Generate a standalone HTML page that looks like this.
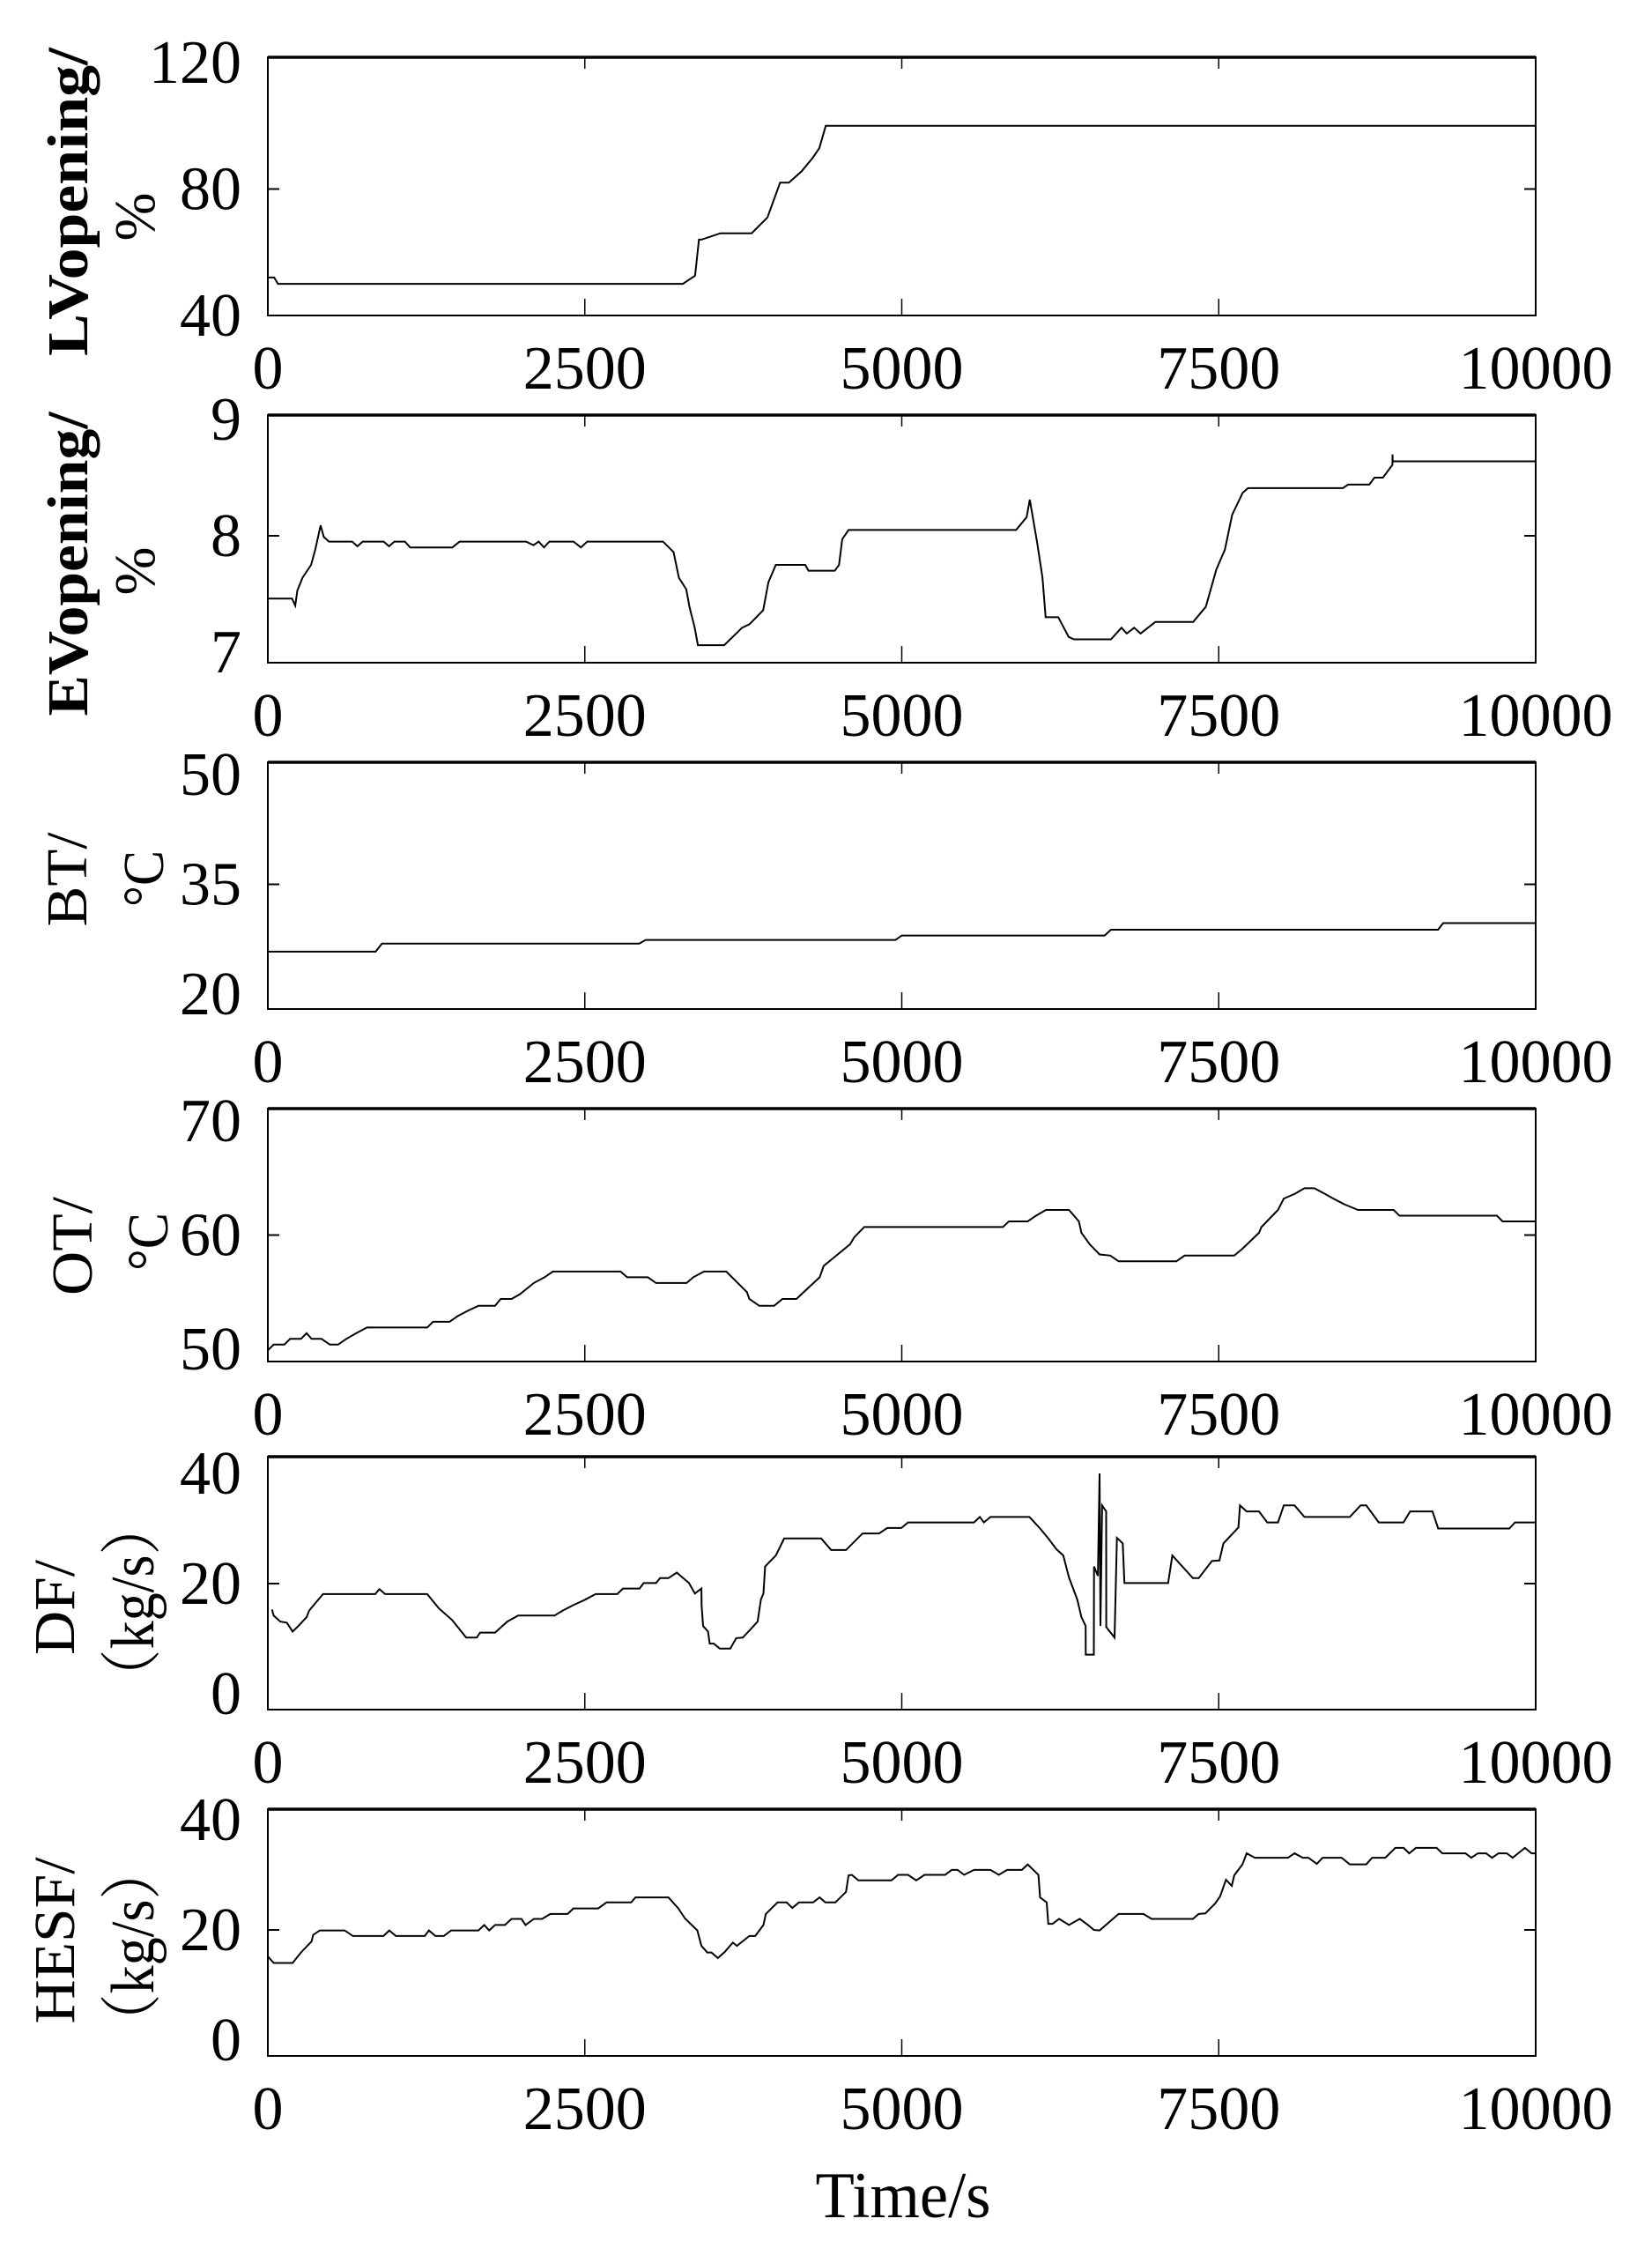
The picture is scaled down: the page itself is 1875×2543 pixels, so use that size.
<!DOCTYPE html>
<html><head><meta charset="utf-8"><style>
html,body{margin:0;padding:0;background:#fff;}
svg{display:block;}
text{font-family:"Liberation Serif","Noto Serif CJK SC",serif;fill:#000;}
</style></head><body>
<svg id="chart" width="1875" height="2543" viewBox="0 0 1875 2543" xmlns="http://www.w3.org/2000/svg"></svg>
<script>
// ---- data (time in s, values in axis units) ----
const xTicks = [0, 2500, 5000, 7500, 10000];
const xTickLabels = ["0", "2500", "5000", "7500", "10000"];

const lvT = [0,50,80,3273,3370,3400,3420,3570,3816,3940,4040,4110,4210,4300,4350,4400,10000];
const lvV = [52,52,50,50,52.6,64,64,66,66,71,82,82,85.6,90,93,100,100];

const evT = [0,191,216,233,274,341,374,416,441,482,665,707,748,914,956,998,1081,1122,1455,1513,2036,2095,2136,2178,2220,2411,2469,2519,3117,3200,3242,3300,3325,3367,3392,3600,3741,3799,3907,3948,4006,4239,4264,4472,4505,4530,4580,5902,5985,6010,6027,6068,6110,6135,6234,6317,6359,6650,6733,6775,6833,6883,7000,7299,7398,7481,7548,7606,7689,7731,8479,8521,8687,8728,8795,8870,8871,8872,10000];
const evV = [7.46,7.46,7.40,7.53,7.64,7.75,7.88,8.09,7.99,7.95,7.95,7.91,7.95,7.95,7.91,7.95,7.95,7.90,7.90,7.95,7.95,7.92,7.95,7.90,7.95,7.95,7.90,7.95,7.95,7.86,7.64,7.54,7.39,7.21,7.06,7.06,7.21,7.24,7.36,7.60,7.75,7.75,7.70,7.70,7.75,7.97,8.05,8.05,8.16,8.31,8.20,7.94,7.64,7.30,7.30,7.13,7.11,7.11,7.21,7.16,7.21,7.16,7.26,7.26,7.39,7.71,7.88,8.18,8.37,8.41,8.41,8.44,8.44,8.50,8.50,8.61,8.70,8.64,8.64];

const btT = [0,850,900,2930,2980,4950,5000,6600,6650,9230,9270,10000];
const btV = [25.8,25.8,26.9,26.9,27.4,27.4,28.0,28.0,28.8,28.8,29.7,29.7];

const otT = [0,46,130,176,261,306,345,423,489,554,619,697,782,1257,1303,1433,1498,1583,1661,1792,1837,1922,1987,2098,2182,2248,2782,2834,2997,3062,3303,3355,3440,3616,3779,3798,3876,3993,4059,4169,4352,4384,4495,4593,4625,4704,5798,5844,5993,6059,6137,6319,6397,6417,6482,6560,6645,6710,7166,7231,7622,7687,7818,7837,7967,8013,8098,8176,8254,8339,8404,8489,8599,8880,8925,9694,9739,10000];
const otV = [49.9,50.4,50.4,50.9,50.9,51.4,50.9,50.9,50.4,50.4,50.9,51.4,51.9,51.9,52.4,52.4,52.9,53.4,53.8,53.8,54.4,54.4,54.8,55.8,56.3,56.8,56.8,56.3,56.3,55.8,55.8,56.3,56.8,56.8,55.0,54.4,53.8,53.8,54.4,54.4,56.3,57.3,58.3,59.2,59.8,60.7,60.7,61.2,61.2,61.7,62.2,62.2,61.2,60.2,59.2,58.3,58.2,57.7,57.7,58.2,58.2,58.8,60.2,60.7,62.2,63.2,63.6,64.1,64.1,63.6,63.2,62.7,62.2,62.2,61.7,61.7,61.2,61.2];

const dfT = [33,46,98,150,195,241,306,326,391,436,847,880,925,1257,1349,1453,1498,1564,1648,1674,1792,1889,1974,2261,2326,2410,2495,2586,2756,2801,2932,2964,3062,3094,3160,3225,3322,3368,3420,3421,3433,3472,3485,3518,3564,3648,3694,3746,3811,3863,3889,3909,3922,4007,4072,4365,4443,4560,4691,4821,4886,4997,5049,5570,5616,5648,5700,6007,6091,6156,6222,6274,6319,6384,6417,6450,6451,6515,6516,6547,6560,6567,6580,6612,6613,6678,6697,6743,6756,7101,7134,7296,7342,7446,7505,7537,7655,7668,7720,7817,7883,7967,8013,8098,8176,8534,8619,8664,8762,8957,9010,9186,9231,9792,9837,10000];
const dfV = [15.3,14.2,13.1,12.9,11.3,12.3,13.9,15.1,16.9,18.1,18.1,19.0,18.1,18.1,15.5,13.4,12.1,10.2,10.2,11.1,11.1,13.1,14.2,14.2,15.1,16.1,17.0,18.1,18.1,19.1,19.1,20.1,20.1,21.0,21.0,22.0,20.1,18.2,19.1,16.1,12.3,11.3,9.1,9.1,8.2,8.2,10.1,10.2,11.8,13.1,17.1,18.2,23.1,25.1,28.2,28.2,26.1,26.1,29.1,29.1,30.1,30.1,31.1,31.1,32.1,31.1,32.1,32.1,30.0,28.2,26.2,25.1,21.1,17.1,13.9,12.3,7.1,7.1,23.1,21.4,40,12.3,34.2,33.1,12.1,10.2,28.3,27.3,20.1,20.1,25.1,21.0,21.0,24.1,24.2,27.3,30.2,34.2,33.1,33.1,31.1,31.1,34.2,34.2,32.1,32.1,34.2,34.2,31.1,31.1,33.1,33.1,30.0,30.0,31.1,31.1];

const hsT = [0,46,195,261,345,358,410,606,671,912,958,1010,1238,1270,1322,1388,1446,1661,1707,1746,1792,1870,1922,2000,2033,2098,2163,2228,2365,2410,2606,2671,2866,2899,3160,3238,3290,3388,3420,3466,3498,3550,3603,3668,3700,3798,3844,3909,3928,4020,4092,4137,4189,4300,4352,4397,4476,4560,4580,4606,4658,4919,4971,5049,5114,5179,5342,5394,5440,5492,5570,5700,5765,5831,5948,5993,6078,6091,6143,6156,6189,6241,6319,6404,6469,6515,6560,6710,6906,6971,7296,7342,7394,7472,7511,7557,7603,7622,7687,7720,7785,8046,8098,8163,8208,8274,8319,8469,8534,8664,8710,8814,8893,8958,9003,9055,9218,9264,9446,9492,9544,9609,9655,9707,9772,9818,9915,9967,10000];
const hsV = [15.2,14.0,14.0,15.9,17.9,19.1,19.9,19.9,18.9,18.9,19.9,18.9,18.9,19.9,18.9,18.9,19.9,19.9,20.9,19.9,20.9,20.9,22.0,22.0,20.9,22.0,22.0,22.9,22.9,23.9,23.9,25.0,25.0,25.9,25.9,23.9,22.1,19.9,17.1,15.9,15.9,14.9,16.0,17.7,17.1,18.9,18.9,20.9,22.9,25.0,25.0,24.0,25.0,25.0,25.9,25.0,25.0,26.9,29.9,30.0,29.0,29.0,30.0,30.0,29.0,30.0,30.0,30.9,30.9,30.0,30.9,30.9,30.0,30.9,30.9,31.9,30.0,25.9,25.0,21.1,21.1,22.0,20.9,22.0,20.9,20.0,19.9,22.9,22.9,22.0,22.0,22.9,23.0,24.8,26.1,29.1,28.0,29.9,31.9,33.9,33.1,33.1,33.9,33.1,33.1,32.0,33.1,33.1,31.9,31.9,33.1,33.1,34.9,34.9,33.9,34.9,34.9,33.9,33.9,33.1,33.9,33.9,33.1,33.9,33.9,33.1,34.9,33.9,33.9];

const yTicks1 = [40, 80, 120];
const yTicks2 = [7, 8, 9];
const yTicks3 = [20, 35, 50];
const yTicks4 = [50, 60, 70];
const yTicks5 = [0, 20, 40];
const yTicks6 = [0, 20, 40];

// ---- layout ----
const X0 = 304, X1 = 1743;
const NS = "http://www.w3.org/2000/svg";
const svg = document.getElementById('chart');
function mk(tag, attrs, parent) {
  const e = document.createElementNS(NS, tag);
  for (const k in attrs) e.setAttribute(k, attrs[k]);
  (parent || svg).appendChild(e);
  return e;
}
function xScale(t) { return X0 + (t / 10000) * (X1 - X0); }

const panels = [
  {key:'lv', top:65, bot:358, min:40, max:120, pMin:358, pMax:71, ticks:yTicks1, t:lvT, v:lvV,
   l1:'LVopening/', l1x:77, l1c:229, l1len:350, bold:true, l2:'%', l2x:153, l2c:246, l2len:0},
  {key:'ev', top:471, bot:752, min:7, max:9, pMin:740, pMax:476, ticks:yTicks2, t:evT, v:evV,
   l1:'EVopening/', l1x:77, l1c:640, l1len:345, bold:true, l2:'%', l2x:153, l2c:648, l2len:0},
  {key:'bt', top:865, bot:1145, min:20, max:50, pMin:1128, pMax:879, ticks:yTicks3, t:btT, v:btV,
   l1:'BT/', l1x:76, l1c:998, l1len:107, bold:false, l2:'°C', l2x:163, l2c:997, l2len:64},
  {key:'ot', top:1258, bot:1545, min:50, max:70, pMin:1531, pMax:1272, ticks:yTicks4, t:otT, v:otV,
   l1:'OT/', l1x:82, l1c:1414, l1len:112, bold:false, l2:'°C', l2x:168, l2c:1409, l2len:66},
  {key:'df', top:1653, bot:1940, min:0, max:40, pMin:1922, pMax:1672, ticks:yTicks5, t:dfT, v:dfV,
   l1:'DF/', l1x:62, l1c:1824, l1len:108, bold:false, l2:'（kg/s）', l2x:152, l2c:1818, l2len:235},
  {key:'hesf', top:2053, bot:2333, min:0, max:40, pMin:2315, pMax:2065, ticks:yTicks6, t:hsT, v:hsV,
   l1:'HESF/', l1x:62, l1c:2202, l1len:189, bold:false, l2:'（kg/s）', l2x:152, l2c:2209, l2len:235},
];

panels.forEach(p => {
  const g = mk('g', {});
  
  
  const yS = v => p.pMin + (v - p.min) / (p.max - p.min) * (p.pMax - p.pMin);

  const fr = mk('rect', {x:X0, y:p.top, width:X1-X0, height:p.bot-p.top, fill:'none', stroke:'#000', 'stroke-width':2}, g);
  
  
  const tl = mk('line', {x1:X0, y1:p.top, x2:X1, y2:p.top, stroke:'#000', 'stroke-width':3.5}, g);
  
  

  xTicks.forEach((t, i) => {
    const x = xScale(t);
    if (i > 0 && i < xTicks.length - 1) {
      const a = mk('line', {x1:x, y1:p.top, x2:x, y2:p.top+13, stroke:'#000', 'stroke-width':1.5}, g);
      
      
      const b = mk('line', {x1:x, y1:p.bot, x2:x, y2:p.bot-19, stroke:'#000', 'stroke-width':1.5}, g);
      
      
    }
    const lb = mk('text', {x:x, y:p.bot+83, 'font-size':70, 'text-anchor':'middle'}, g);
    lb.textContent = xTickLabels[i];
    
    
  });

  p.ticks.forEach((v, i) => {
    const y = yS(v);
    if (i === 1) {
      const a = mk('line', {x1:X0, y1:y, x2:X0+13, y2:y, stroke:'#000', 'stroke-width':2}, g);
      
      
      const b = mk('line', {x1:X1, y1:y, x2:X1-13, y2:y, stroke:'#000', 'stroke-width':2}, g);
      
      
    }
    const lb = mk('text', {x:274, y:y+23, 'font-size':70, 'text-anchor':'end'}, g);
    lb.textContent = String(v);
    
    
  });

  let d = '';
  p.t.forEach((t, i) => { d += (i ? 'L' : 'M') + xScale(t).toFixed(1) + ' ' + yS(p.v[i]).toFixed(1); });
  const ln = mk('path', {d:d, fill:'none', stroke:'#000', 'stroke-width':2, 'stroke-linejoin':'miter'}, g);
  
  

  const t1 = mk('text', {transform:`translate(${p.l1x+22},${p.l1c}) rotate(-90)`, 'font-size':66, 'text-anchor':'middle', 'font-weight':p.bold?'bold':'normal', textLength:p.l1len, lengthAdjust:'spacingAndGlyphs'}, g);
  t1.textContent = p.l1;
  
  
  const a2 = {transform:`translate(${p.l2x+22},${p.l2c}) rotate(-90)`, 'font-size':p.l2len > 100 ? 70 : 66, 'text-anchor':'middle'};
  if (p.l2len) { a2.textLength = p.l2len; a2.lengthAdjust = 'spacingAndGlyphs'; }
  const t2 = mk('text', a2, g);
  t2.textContent = p.l2;
  
  
});

const xt = mk('text', {x:1025, y:2516, 'font-size':74, 'text-anchor':'middle', textLength:199, lengthAdjust:'spacingAndGlyphs'});
xt.textContent = 'Time/s';


</script>
</body></html>
